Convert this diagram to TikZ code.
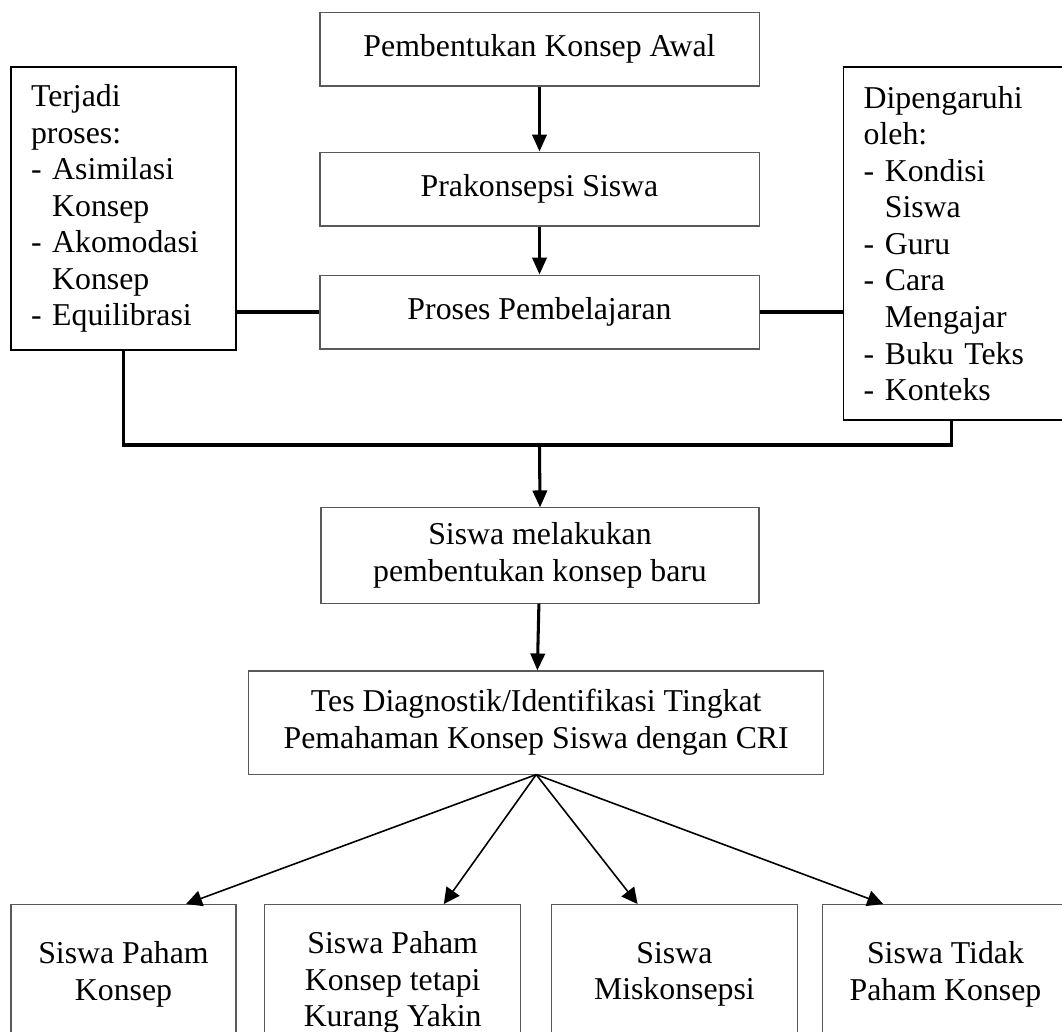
\documentclass[tikz,border=0pt]{standalone}
\usepackage{fontspec}
\setmainfont{Liberation Serif}
\usetikzlibrary{arrows.meta}

\tikzset{
  box/.style={draw=black!65, line width=0.4pt, minimum width=165.7pt, minimum height=27.9pt,
    align=center, inner sep=0pt, font=\fontsize{12}{13.8}\selectfont},
  sidebox/.style={box, draw=black, line width=0.5pt, align=left, minimum width=0pt, inner xsep=7.55pt},
  conn/.style={line width=1.15pt},
  arr/.style={conn, -{Triangle[width=5.4pt,length=6.4pt]}},
  thinarr/.style={line width=0.6pt, -{Triangle[width=6pt,length=6pt]}},
}

\begin{document}
\begin{tikzpicture}[x=0.3774pt, y=-0.3774pt]
  \useasboundingbox (0,0) rectangle (1062,1032);
  \clip (0,0) rectangle (1062,1032);

  % main column
  \node[box] (awal) at (539.5,49) {Pembentukan Konsep Awal};
  \node[box] (prakon) at (539.5,189) {Prakonsepsi Siswa};
  \node[box] (proses) at (539.5,312) {Proses Pembelajaran};

  % side boxes (the right one runs past the edge)
  \node[sidebox, text width=69.8pt, minimum height=106.8pt] (terjadi) at (123.5,208.5)
    {Terjadi\\proses:\\- Asimilasi\\\hphantom{- }Konsep\\- Akomodasi\\\hphantom{- }Konsep\\- Equilibrasi};
  \node[sidebox, anchor=west, text width=90pt, minimum height=133.2pt] (dipeng) at (843,243.5)
    {Dipengaruhi\\oleh:\\- Kondisi\\\hphantom{- }Siswa\\- Guru\\- Cara\\\hphantom{- }Mengajar\\- Buku Teks\\- Konteks};

  \node[box, minimum width=165.3pt, minimum height=35.9pt] (baru) at (540,555.5)
    {Siswa melakukan\\pembentukan konsep baru};
  \node[box, minimum width=217pt, minimum height=38.9pt] (tes) at (536.2,722.5)
    {Tes Diagnostik/Identifikasi Tingkat\\Pemahaman Konsep Siswa dengan CRI};

  % results
  \node[box, anchor=north, minimum width=84.9pt, minimum height=52.8pt] (paham) at (123.5,904)
    {Siswa Paham\\Konsep};
  \node[box, anchor=north, minimum width=96.8pt, minimum height=58.9pt] (kurang) at (392.7,904)
    {Siswa Paham\\Konsep tetapi\\Kurang Yakin};
  \node[box, anchor=north, minimum width=92.7pt, minimum height=52.8pt] (miskon) at (674.4,904)
    {Siswa\\Miskonsepsi};
  \node[box, anchor=north, minimum width=92.5pt, minimum height=52.8pt] (tidak) at (945.5,904)
    {Siswa Tidak\\Paham Konsep};

  % connectors
  \draw[arr] (awal) -- (prakon);
  \draw[arr] (prakon) -- (proses);
  \draw[conn] (proses.west) -- (proses.west -| terjadi.east);
  \draw[conn] (proses.east) -- (proses.east -| dipeng.west);
  \coordinate (join) at (539.5,445);
  \draw[conn] (terjadi.south) |- (join) -| ([xshift=40.8pt]dipeng.south west);
  \draw[arr] (join) -- (baru.north);
  \draw[arr] (baru) -- (tes);
  \foreach \b/\s in {paham/23.6pt, kurang/19.3pt, miskon/-13.9pt, tidak/-23.5pt}
    \draw[thinarr] (tes.south) -- ([xshift=\s]\b.north);
\end{tikzpicture}
\end{document}
